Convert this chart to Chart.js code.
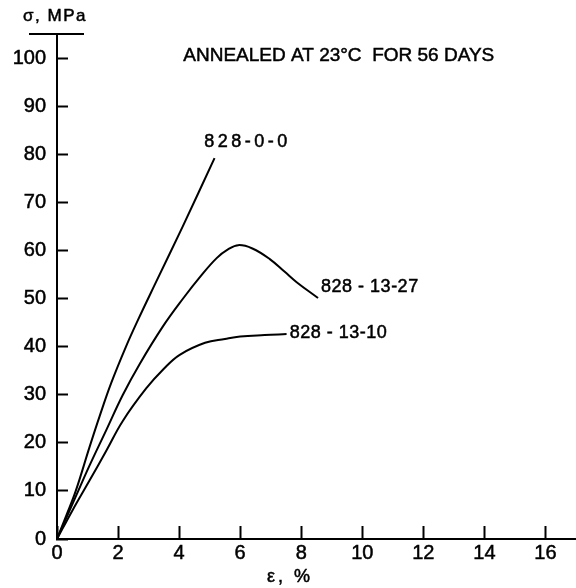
<!DOCTYPE html>
<html><head><meta charset="utf-8">
<script src="https://cdn.jsdelivr.net/npm/chart.js@4/dist/chart.umd.min.js"></script>
<style>html,body{margin:0;padding:0;background:#fff;}</style>
</head><body>
<canvas id="c" width="576" height="588"></canvas>
<script>
// ---- data ----
const xTicks = [0, 2, 4, 6, 8, 10, 12, 14, 16];
const yTicks = [0, 10, 20, 30, 40, 50, 60, 70, 80, 90, 100];

const seriesNames = ['828-0-0', '828-13-27', '828-13-10'];

const strain_828_0_0 = [0, 0.3, 0.62, 1.06, 1.4, 1.78, 2.26, 2.65, 3.25, 4.12, 5.16];
const stress_828_0_0 = [0, 4.8, 10.1, 19.0, 25.6, 32.5, 40.0, 45.5, 53.5, 65.0, 79.2];

const strain_828_13_27 = [0, 0.62, 1.06, 1.61, 2.15, 2.7, 3.47, 4.13, 4.7, 5.23, 5.6, 5.94, 6.4, 6.97, 7.45, 7.85, 8.55];
const stress_828_13_27 = [0, 8.9, 15.2, 22.6, 29.9, 36.3, 44.2, 50.0, 54.6, 58.4, 60.2, 61.1, 60.4, 58.2, 55.6, 53.4, 50.1];

const strain_828_13_10 = [0, 0.51, 1.06, 1.61, 2.15, 2.92, 3.5, 4.02, 4.85, 5.5, 6.0, 6.8, 7.52];
const stress_828_13_10 = [0, 6.0, 12.1, 18.3, 24.5, 31.3, 35.4, 38.3, 40.8, 41.6, 42.1, 42.4, 42.6];

const curveLabels = ['828-0-0', '828 - 13-27', '828 - 13-10'];
const noteText = 'ANNEALED AT 23\u00B0C  FOR 56 DAYS';
const xTitle = '\u03B5, %';
const yTitle = '\u03C3, MPa';

// ---- chart ----
const FONT = '"Liberation Sans", Arial, sans-serif';
const toPts = (xs, ys) => xs.map((x, i) => ({ x: x, y: ys[i] }));

const annotations = {
  labels: [
    { text: curveLabels[0], x: 4.82, y: 82.6, spacing: 3.5 },
    { text: curveLabels[1], x: 8.65, y: 52.3, spacing: 0.5 },
    { text: curveLabels[2], x: 7.62, y: 42.8, spacing: 0.5 }
  ],
  note: { text: noteText, x: 9.23, y: 100.5 }
};

function drawText(ctx, text, x, y) {
  ctx.fillText(text, x, y);
  ctx.strokeText(text, x, y);
}

const textPlugin = {
  id: 'texts',
  afterDraw(chart) {
    const ctx = chart.ctx, xs = chart.scales.x, ys = chart.scales.y, ca = chart.chartArea;
    ctx.save();
    ctx.fillStyle = '#000';
    ctx.strokeStyle = '#000';
    ctx.lineWidth = 0.5;
    ctx.textBaseline = 'middle';
    ctx.font = '18px ' + FONT;
    ctx.textAlign = 'left';
    annotations.labels.forEach(l => {
      ctx.letterSpacing = l.spacing + 'px';
      drawText(ctx, l.text, xs.getPixelForValue(l.x), ys.getPixelForValue(l.y));
    });
    ctx.letterSpacing = '0px';
    ctx.font = '19px ' + FONT;
    ctx.textAlign = 'center';
    drawText(ctx, annotations.note.text, xs.getPixelForValue(annotations.note.x), ys.getPixelForValue(annotations.note.y));
    ctx.font = '17px ' + FONT;
    ctx.letterSpacing = '1.5px';
    drawText(ctx, yTitle, 55, 16);
    ctx.lineWidth = 2;
    ctx.beginPath();
    ctx.moveTo(29, ca.top);
    ctx.lineTo(84, ca.top);
    ctx.stroke();
    ctx.lineWidth = 0.5;
    ctx.font = '18px ' + FONT;
    ctx.letterSpacing = '3px';
    drawText(ctx, xTitle, 290, 577);
    ctx.restore();
  }
};

const lineStyle = {
  borderColor: '#000', borderWidth: 2, pointRadius: 0, fill: false,
  tension: 0.4
};

new Chart(document.getElementById('c'), {
  type: 'line',
  data: {
    datasets: [
      Object.assign({ label: seriesNames[0], data: toPts(strain_828_0_0, stress_828_0_0) }, lineStyle),
      Object.assign({ label: seriesNames[1], data: toPts(strain_828_13_27, stress_828_13_27) }, lineStyle),
      Object.assign({ label: seriesNames[2], data: toPts(strain_828_13_10, stress_828_13_10) }, lineStyle)
    ]
  },
  options: {
    responsive: false,
    animation: false,
    devicePixelRatio: 1,
    layout: { padding: { top: 29, left: 0, right: 0, bottom: 0 } },
    plugins: { legend: { display: false }, tooltip: { enabled: false }, title: { display: false } },
    scales: {
      x: {
        type: 'linear', min: 0, max: 17,
        afterBuildTicks: s => { s.ticks = xTicks.map(v => ({ value: v })); },
        afterFit: s => { s.height = 49; },
        grid: { display: true, drawOnChartArea: false, drawTicks: true, tickLength: -13, tickWidth: 2, tickColor: '#000' },
        border: { display: true, color: '#000', width: 2 },
        ticks: { padding: 15, color: '#000', font: { family: FONT, size: 20 }, maxRotation: 0, autoSkip: false,
                 textStrokeColor: '#000', textStrokeWidth: 0.5 }
      },
      y: {
        type: 'linear', min: 0, max: 105,
        afterBuildTicks: s => { s.ticks = yTicks.map(v => ({ value: v })); },
        afterFit: s => { s.width = 57; },
        grid: { display: true, drawOnChartArea: false, drawTicks: true, tickLength: -11, tickWidth: 2, tickColor: '#000' },
        border: { display: true, color: '#000', width: 2 },
        ticks: { padding: 22, color: '#000', font: { family: FONT, size: 20 }, autoSkip: false,
                 textStrokeColor: '#000', textStrokeWidth: 0.5 }
      }
    }
  },
  plugins: [textPlugin]
});
</script>
</body></html>
